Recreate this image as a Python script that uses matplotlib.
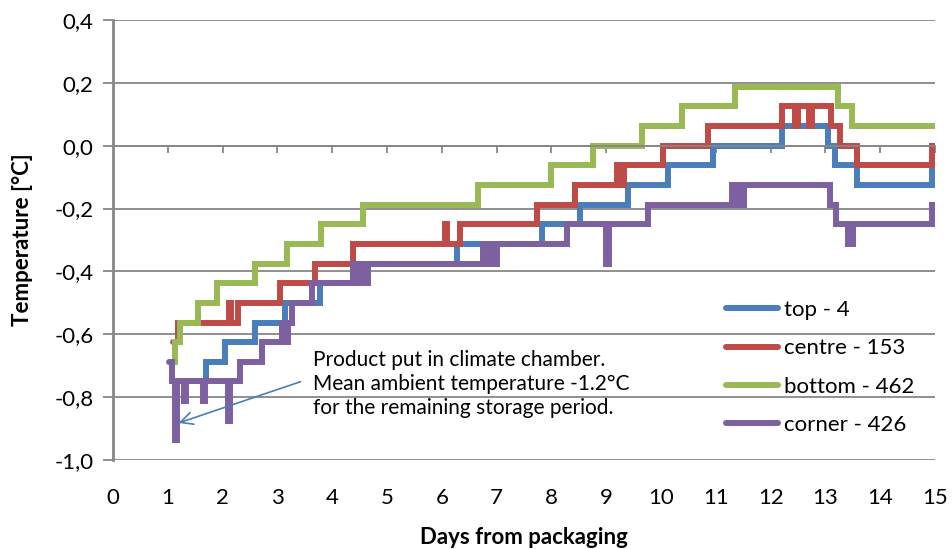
import matplotlib
matplotlib.use("Agg")
import matplotlib.pyplot as plt
from matplotlib.ticker import FuncFormatter

plt.rcParams['font.family'] = ['Lato', 'DejaVu Sans']

# step series: day where a new reading starts, temperature from that day on
top_days = [1.08, 1.69, 2.04, 2.59, 3.14, 3.78, 4.50, 6.27, 7.83, 8.52, 9.40,
            10.13, 10.95, 12.20, 13.05, 13.18, 13.58, 14.95, 15.0]
top_temp = [-0.75, -0.6875, -0.625, -0.5625, -0.5, -0.4375, -0.375, -0.3125,
            -0.25, -0.1875, -0.125, -0.0625, 0.0, 0.0625, 0.0, -0.0625, -0.125, -0.0625, -0.0625]

centre_days = [1.10, 1.18, 2.12, 2.16, 2.28, 3.05, 3.68, 4.38, 6.06, 6.10, 6.33, 7.73, 8.43,
               9.20, 9.24, 9.32, 10.04, 10.86, 12.20, 12.45, 12.50, 12.70, 12.75, 13.10, 13.27,
               13.58, 14.95, 15.0]
centre_temp = [-0.625, -0.5625, -0.5, -0.5625, -0.5, -0.4375, -0.375, -0.3125, -0.25, -0.3125,
               -0.25, -0.1875, -0.125, -0.0625, -0.125, -0.0625, 0.0, 0.0625, 0.125, 0.0625,
               0.125, 0.0625, 0.125, 0.0625, 0.0, -0.0625, 0.0, 0.0]

bottom_days = [1.08, 1.13, 1.22, 1.55, 1.90, 2.60, 3.17, 3.80, 4.56, 6.66, 8.00, 8.76, 9.65,
               10.38, 11.35, 13.23, 13.48, 15.0]
bottom_temp = [-0.6875, -0.625, -0.5625, -0.5, -0.4375, -0.375, -0.3125, -0.25, -0.1875, -0.125,
               -0.0625, 0.0, 0.0625, 0.125, 0.1875, 0.125, 0.0625, 0.0625]

corner_days = [1.02, 1.08, 1.14, 1.17, 1.30, 1.33, 1.64, 1.67, 2.10, 2.13, 2.32, 2.72, 3.08,
               3.17, 3.20, 3.26, 3.64, 4.38, 4.45, 4.50, 4.60, 4.65, 6.75, 6.80, 6.90, 6.95,
               7.00, 8.28, 9.00, 9.05, 9.76, 11.30, 11.35, 11.42, 11.47, 11.52, 13.08, 13.20,
               13.42, 13.50, 14.95, 15.0]
corner_temp = [-0.6875, -0.75, -0.9375, -0.75, -0.8125, -0.75, -0.8125, -0.75, -0.875, -0.75,
               -0.6875, -0.625, -0.5625, -0.625, -0.5625, -0.5, -0.4375, -0.375, -0.4375, -0.375,
               -0.4375, -0.375, -0.3125, -0.375, -0.3125, -0.375, -0.3125, -0.25, -0.375, -0.25,
               -0.1875, -0.125, -0.1875, -0.125, -0.1875, -0.125, -0.1875, -0.25, -0.3125, -0.25,
               -0.1875, -0.1875]

series = [
    ("top - 4", top_days, top_temp, "#4A7EBB"),
    ("centre - 153", centre_days, centre_temp, "#BE4B48"),
    ("bottom - 462", bottom_days, bottom_temp, "#98B954"),
    ("corner - 426", corner_days, corner_temp, "#7D60A0"),
]

grey = "#878787"

fig = plt.figure(figsize=(9.52, 5.49), dpi=100)
ax = fig.add_axes([113 / 952, 1 - 460 / 549, (935 - 113) / 952, 440 / 549])

for name, d, t, c in series:
    ax.plot(d, t, drawstyle="steps-post", color=c, lw=4.3, label=name,
            solid_joinstyle="miter", solid_capstyle="round")

ax.set_xlim(0, 15)
ax.set_ylim(-1.0, 0.4)
ax.set_yticks([-1.0, -0.8, -0.6, -0.4, -0.2, 0.0, 0.2, 0.4])
ax.yaxis.set_major_formatter(FuncFormatter(lambda v, p: f"{v:.1f}".replace(".", ",").replace("-0,0", "0,0")))
ax.grid(axis="y", color=grey, lw=1.3)
ax.set_axisbelow(True)

for s in ["top", "right"]:
    ax.spines[s].set_visible(False)
ax.spines["left"].set_color(grey)
ax.spines["left"].set_linewidth(2)
ax.spines["bottom"].set_position(("data", 0))
ax.spines["bottom"].set_color(grey)
ax.spines["bottom"].set_linewidth(1.3)

ax.set_xticks(range(1, 16))
ax.tick_params(axis="x", direction="out", length=5, width=1.3, color=grey, labelbottom=False)
ax.tick_params(axis="y", direction="out", length=7, width=1.3, color=grey, labelsize=16, pad=7)

sec = ax.secondary_xaxis("bottom")
sec.set_xticks(range(0, 16))
sec.tick_params(length=0, labelsize=16, pad=20)
sec.spines["bottom"].set_visible(False)
sec.set_xlabel("Days from packaging", fontsize=16, fontweight="bold", labelpad=14)

ax.set_ylabel("Temperature [°C]", fontsize=16, fontweight="bold", labelpad=15)

ax.annotate("", xy=(1.15, -0.885), xytext=(3.47, -0.748),
            arrowprops=dict(arrowstyle="->", color="#4A7EBB", lw=1.2, mutation_scale=22))
ax.text(3.65, -0.757,
        "Product put in climate chamber.\nMean ambient temperature -1.2°C\nfor the remaining storage period.",
        fontsize=15, va="center", ha="left", linespacing=1.25)

ax.legend(loc="center left", bbox_to_anchor=(0.722, 0.21), frameon=False, fontsize=16,
          handlelength=2.3, handletextpad=0.3, labelspacing=0.82)

fig.savefig("out.png", dpi=100)
